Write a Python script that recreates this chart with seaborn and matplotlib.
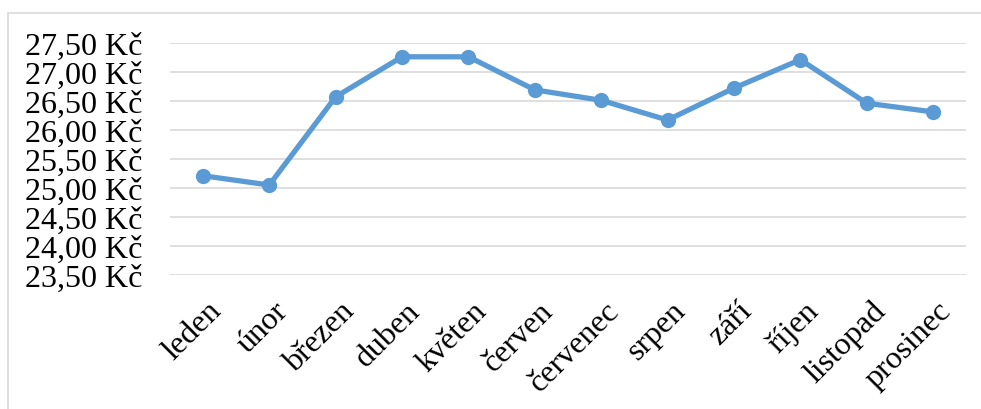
import matplotlib
matplotlib.use("Agg")
import matplotlib.pyplot as plt
import matplotlib.transforms as mtransforms
import seaborn as sns
import pandas as pd
from matplotlib.lines import Line2D
from matplotlib.ticker import FuncFormatter, MultipleLocator

mesice = ['leden', 'únor', 'březen', 'duben', 'květen', 'červen',
          'červenec', 'srpen', 'září', 'říjen', 'listopad', 'prosinec']
ceny = [25.21, 25.05, 26.57, 27.26, 27.26, 26.69,
        26.51, 26.17, 26.72, 27.21, 26.46, 26.31]

df = pd.DataFrame({'mesic': mesice, 'cena': ceny})

sns.set_style('white')
plt.rcParams['font.family'] = ['Liberation Serif', 'DejaVu Serif']

fig = plt.figure(figsize=(9.81, 4.10), dpi=100)
ax = fig.add_axes([0.173, 0.327, 0.812, 0.566])

#čára s body
sns.lineplot(data=df, x='mesic', y='cena', ax=ax, sort=False,
             color='#5B9BD5', linewidth=3.8, marker='o', markersize=11,
             markeredgewidth=0)

ax.set_xlim(-0.5, len(mesice) - 0.5)
ax.set_ylim(23.5, 27.5)
ax.yaxis.set_major_locator(MultipleLocator(0.5))
ax.yaxis.set_major_formatter(FuncFormatter(lambda v, p: f'{v:.2f}'.replace('.', ',') + ' Kč'))
ax.grid(axis='y', color='#D9D9D9', linewidth=1.2)
ax.set_axisbelow(True)
for s in ax.spines.values():
    s.set_visible(False)
ax.tick_params(axis='y', length=0, pad=20, labelsize=23, labelcolor='black')
ax.tick_params(axis='x', length=0, pad=15, labelsize=23, labelcolor='black')
ax.set_xticks(range(len(mesice)))
ax.set_xticklabels(mesice, rotation=45, ha='right', va='top', rotation_mode='anchor')
posun = mtransforms.ScaledTranslation(4 / 100, 0, fig.dpi_scale_trans)
for lab in ax.get_xticklabels():
    lab.set_transform(lab.get_transform() + posun)
ax.set_xlabel('')
ax.set_ylabel('')

#rámeček - jen levá a horní hrana
x0 = 7.5 / 981
y1 = 1 - 13.5 / 410
fig.lines.append(Line2D([x0, x0], [0, y1], transform=fig.transFigure,
                        color='#D9D9D9', linewidth=1.2))
fig.lines.append(Line2D([x0, 1], [y1, y1], transform=fig.transFigure,
                        color='#D9D9D9', linewidth=1.2))

fig.savefig('out.png', dpi=100)
